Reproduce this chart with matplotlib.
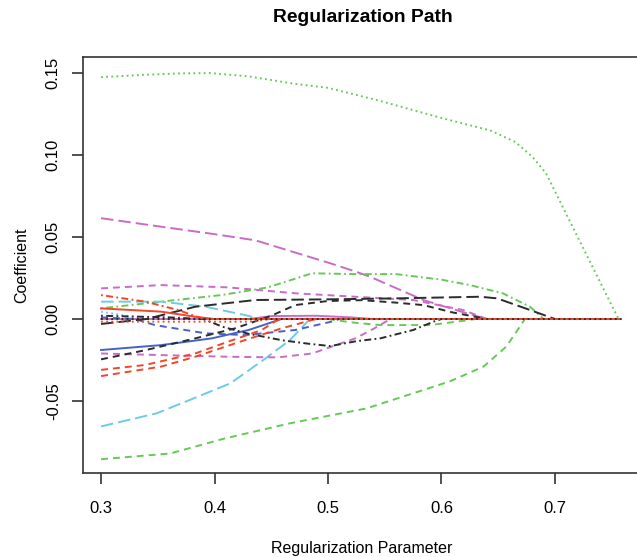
import numpy as np
import matplotlib.pyplot as plt

plt.rcParams['font.family'] = ['Liberation Sans', 'DejaVu Sans']
plt.rcParams['lines.scale_dashes'] = False

# regularization parameter values and coefficient paths
x_green_dot = [0.3, 0.34, 0.37, 0.396, 0.43, 0.47, 0.5, 0.546, 0.6, 0.643, 0.665, 0.68, 0.692, 0.72, 0.756, 0.758]
y_green_dot = [0.1475, 0.149, 0.1498, 0.150, 0.148, 0.1435, 0.141, 0.133, 0.1226, 0.115, 0.108, 0.099, 0.089, 0.05, 0.0, 0.0]

x_mag_long = [0.3, 0.353, 0.3975, 0.436, 0.483, 0.502, 0.524, 0.537, 0.584, 0.615, 0.64, 0.758]
y_mag_long = [0.0615, 0.0563, 0.052, 0.048, 0.038, 0.034, 0.029, 0.0258, 0.0116, 0.005, 0.0, 0.0]

x_mag_dash_hi = [0.3, 0.353, 0.412, 0.471, 0.524, 0.575, 0.619, 0.64, 0.758]
y_mag_dash_hi = [0.0187, 0.0207, 0.0193, 0.0157, 0.0136, 0.0116, 0.0055, 0.0, 0.0]

x_green_dotdash = [0.3, 0.353, 0.406, 0.447, 0.486, 0.524, 0.56, 0.6, 0.625, 0.654, 0.678, 0.69, 0.758]
y_green_dotdash = [0.0065, 0.0106, 0.0146, 0.0193, 0.0279, 0.0274, 0.0274, 0.024, 0.0207, 0.0157, 0.0075, 0.0, 0.0]

x_black_long = [0.3, 0.34, 0.383, 0.436, 0.5, 0.56, 0.634, 0.649, 0.678, 0.70, 0.758]
y_black_long = [-0.003, 0.0, 0.0075, 0.0116, 0.012, 0.0126, 0.0136, 0.0126, 0.0055, 0.0, 0.0]

x_black_dash = [0.3, 0.339, 0.383, 0.418, 0.45, 0.471, 0.5, 0.53, 0.56, 0.584, 0.61, 0.64, 0.758]
y_black_dash = [-0.0246, -0.019, -0.0118, -0.0057, 0.002, 0.0085, 0.011, 0.0115, 0.010, 0.0085, 0.004, 0.0, 0.0]

x_black_dotdash = [0.3, 0.36, 0.39, 0.407, 0.43, 0.46, 0.482, 0.502, 0.525, 0.546, 0.575, 0.593, 0.60, 0.758]
y_black_dotdash = [0.002, 0.001, 0.0, -0.0047, -0.009, -0.013, -0.015, -0.0165, -0.0135, -0.0118, -0.0067, -0.0016, 0.0, 0.0]

x_cyan_low = [0.3, 0.349, 0.378, 0.414, 0.443, 0.4665, 0.484, 0.758]
y_cyan_low = [-0.0655, -0.0575, -0.0494, -0.0392, -0.025, -0.0128, 0.0, 0.0]

x_cyan_hi = [0.3, 0.353, 0.392, 0.427, 0.44, 0.758]
y_cyan_hi = [0.0106, 0.0106, 0.0075, 0.0024, 0.0, 0.0]

x_cyan_dot = [0.3, 0.34, 0.758]
y_cyan_dot = [0.0045, 0.0, 0.0]

x_red_dotdash = [0.3, 0.339, 0.368, 0.39, 0.758]
y_red_dotdash = [0.0146, 0.0106, 0.0055, 0.0, 0.0]

x_red_solid = [0.3, 0.353, 0.383, 0.40, 0.758]
y_red_solid = [0.0065, 0.0045, 0.0014, 0.0, 0.0]

x_red_dot = [0.3, 0.43, 0.45, 0.758]
y_red_dot = [-0.0016, -0.0016, 0.0, 0.0]

x_red_dash1 = [0.3, 0.339, 0.383, 0.412, 0.4416, 0.453, 0.458, 0.758]
y_red_dash1 = [-0.031, -0.028, -0.021, -0.0138, -0.0067, -0.0016, 0.0, 0.0]

x_red_dash2 = [0.3, 0.353, 0.383, 0.427, 0.459, 0.486, 0.49, 0.758]
y_red_dash2 = [-0.0348, -0.029, -0.023, -0.0128, -0.0057, -0.0006, 0.0, 0.0]

x_blue_solid = [0.3, 0.353, 0.3975, 0.43, 0.459, 0.758]
y_blue_solid = [-0.0189, -0.0159, -0.0118, -0.0067, 0.0, 0.0]

x_blue_dash = [0.3, 0.33, 0.3475, 0.392, 0.427, 0.471, 0.503, 0.51, 0.758]
y_blue_dash = [0.001, 0.0, -0.0037, -0.0087, -0.0098, -0.0067, -0.0016, 0.0, 0.0]

x_mag_dash_lo = [0.3, 0.353, 0.412, 0.456, 0.486, 0.524, 0.54, 0.555, 0.758]
y_mag_dash_lo = [-0.021, -0.022, -0.023, -0.0234, -0.021, -0.0118, -0.006, 0.0, 0.0]

x_mag_solid = [0.3, 0.43, 0.45, 0.49, 0.52, 0.54, 0.758]
y_mag_solid = [0.0, 0.0, 0.0018, 0.002, 0.001, 0.0, 0.0]

x_green_dash_lo = [0.3, 0.361, 0.408, 0.4665, 0.534, 0.6075, 0.637, 0.657, 0.669, 0.6735, 0.758]
y_green_dash_lo = [-0.0855, -0.082, -0.073, -0.0636, -0.0545, -0.038, -0.029, -0.0169, -0.0047, 0.0, 0.0]

x_green_dash_zero = [0.3, 0.5, 0.52, 0.546, 0.59, 0.62, 0.63, 0.758]
y_green_dash_zero = [0.0, 0.0, -0.002, -0.0037, -0.0037, -0.001, 0.0, 0.0]

x_black_dot = [0.3, 0.758]
y_black_dot = [0.0, 0.0]

BLACK = '#2b2b2b'
RED = '#f2452a'
GREEN = '#66c957'
BLUE = '#4563c4'
CYAN = '#6ccbe6'
MAGENTA = '#c86cc6'

solid = '-'
dashed = (0, (5, 3.6))
dotted = (0, (1.3, 2.4))
dotdash = (0, (1.3, 2.4, 5, 2.4))
longdash = (0, (9, 3.6))

paths = [
    (x_green_dot, y_green_dot, GREEN, dotted),
    (x_mag_long, y_mag_long, MAGENTA, longdash),
    (x_mag_dash_hi, y_mag_dash_hi, MAGENTA, dashed),
    (x_green_dotdash, y_green_dotdash, GREEN, dotdash),
    (x_cyan_low, y_cyan_low, CYAN, longdash),
    (x_cyan_hi, y_cyan_hi, CYAN, longdash),
    (x_cyan_dot, y_cyan_dot, CYAN, dotted),
    (x_green_dash_lo, y_green_dash_lo, GREEN, dashed),
    (x_green_dash_zero, y_green_dash_zero, GREEN, dashed),
    (x_mag_dash_lo, y_mag_dash_lo, MAGENTA, dashed),
    (x_mag_solid, y_mag_solid, MAGENTA, solid),
    (x_blue_solid, y_blue_solid, BLUE, solid),
    (x_blue_dash, y_blue_dash, BLUE, dashed),
    (x_black_long, y_black_long, BLACK, longdash),
    (x_black_dash, y_black_dash, BLACK, dashed),
    (x_black_dotdash, y_black_dotdash, BLACK, dotdash),
    (x_red_dotdash, y_red_dotdash, RED, dotdash),
    (x_red_dash1, y_red_dash1, RED, dashed),
    (x_red_dash2, y_red_dash2, RED, dashed),
    (x_red_dot, y_red_dot, RED, dotted),
    (x_red_solid, y_red_solid, RED, solid),
    (x_black_dot, y_black_dot, BLACK, dotted),
]

xticks = [0.3, 0.4, 0.5, 0.6, 0.7]
yticks = [-0.05, 0.0, 0.05, 0.10, 0.15]
ytick_labels = ['-0.05', '0.00', '0.05', '0.10', '0.15']

fig = plt.figure(figsize=(6.37, 5.57), dpi=100)
ax = fig.add_axes([83 / 637, 1 - 473 / 557, 558 / 637, 416 / 557])

for xs, ys, col, ls in paths:
    ax.plot(xs, ys, color=col, linestyle=ls, linewidth=1.4)

ax.set_xlim(0.2841, 0.7758)
ax.set_ylim(-0.0939, 0.1598)
ax.set_xticks(xticks)
ax.set_xticklabels([str(v) for v in xticks])
ax.set_yticks(yticks)
ax.set_yticklabels(ytick_labels, rotation=90, va='center')

for s in ax.spines.values():
    s.set_color('#333333')
    s.set_linewidth(1.2)
ax.tick_params(direction='out', length=8, width=1.2, color='#333333',
               labelsize=12, pad=12)
ax.tick_params(axis='y', pad=8)

ax.set_xlabel('Regularization Parameter', fontsize=11.5, labelpad=18)
ax.set_ylabel('Coefficient', fontsize=11.5, labelpad=12)
fig.text(363 / 637, 1 - 17 / 557, 'Regularization Path', fontsize=13.9,
         fontweight='bold', ha='center', va='center')

fig.savefig('out.png', dpi=100)
